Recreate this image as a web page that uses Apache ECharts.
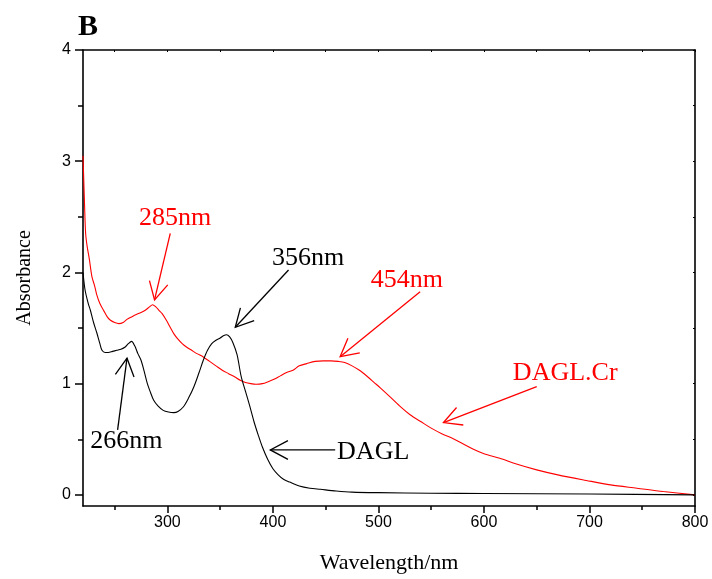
<!DOCTYPE html>
<html>
<head>
<meta charset="utf-8">
<script src="https://cdn.jsdelivr.net/npm/echarts@6/dist/echarts.min.js"></script>
<style>
html,body{margin:0;padding:0;background:#fff;}
#chart{width:712px;height:579px;}
</style>
</head>
<body>
<div id="chart"></div>
<script>
// ---- Data ----
const daglX = [220,222,225,227,230,233,236,238,241,244,248,252,256,260,263,266,269,272,275,278,281,284,287,291,296,301,306,310,315,320,325,330,334,338,342,346,350,353,356,359,362,366,370,374,378,382,386,390,395,400,405,410,416,425,435,445,460,475,500,550,600,700,800];
const daglY = [2.00,1.84,1.72,1.66,1.55,1.46,1.36,1.30,1.28,1.28,1.29,1.30,1.31,1.33,1.36,1.38,1.34,1.27,1.21,1.11,1.00,0.92,0.85,0.80,0.76,0.745,0.74,0.75,0.79,0.87,0.97,1.10,1.21,1.30,1.36,1.39,1.41,1.43,1.44,1.42,1.37,1.26,1.06,0.93,0.80,0.66,0.54,0.43,0.32,0.235,0.18,0.14,0.115,0.08,0.06,0.05,0.035,0.025,0.02,0.015,0.012,0.008,0.0];

const crX = [220,220.5,221.5,222.5,224,226,228.5,231,233,236,240,243,246,250,254,258,262,266,270,275,279,283,286,289,292,295,299,303,306,310,314,318,323,328,334,340,346,352,358,364,369,374,379,384,390,396,401,407,413,419,425,432,440,448,455,462,468,475,482,490,496,502,510,520,530,540,550,560,570,580,590,600,615,630,650,670,697,720,745,770,800];
const crY = [3.05,2.90,2.60,2.35,2.23,2.12,1.96,1.88,1.80,1.72,1.65,1.60,1.57,1.55,1.54,1.55,1.58,1.60,1.62,1.64,1.66,1.69,1.71,1.69,1.66,1.63,1.57,1.50,1.45,1.40,1.36,1.33,1.30,1.27,1.24,1.20,1.16,1.12,1.09,1.06,1.03,1.01,1.00,0.995,1.00,1.02,1.04,1.07,1.10,1.12,1.16,1.18,1.20,1.205,1.205,1.20,1.19,1.16,1.12,1.06,1.01,0.96,0.89,0.80,0.72,0.66,0.60,0.55,0.51,0.46,0.41,0.37,0.33,0.28,0.225,0.18,0.13,0.09,0.06,0.03,0.0];

const xMajorTicks = [300,400,500,600,700,800];
const xMinorTicks = [250,350,450,550,650,750];
const xTopTicks = [250,300,350,400,450,500,550,600,650,700,750,800];
const yMajorTicks = [0,1,2,3,4];
const yMinorTicks = [0.5,1.5,2.5,3.5];
const yRightTicks = [0,0.5,1,1.5,2,2.5,3,3.5,4];

// annotations (data coordinates)
const labelTexts = ['285nm','266nm','356nm','454nm','DAGL.Cr','DAGL'];
const labelPos = [[307.3,2.49],[261,0.485],[433.4,2.13],[527,1.93],[677,1.097],[460.8,0.387]];
const labelColors = ['#ff0000','#000000','#000000','#ff0000','#ff0000','#000000'];
const labelAlign = ['center','center','center','center','center','left'];
const arrowTails = [[302.7,2.352],[252.8,0.584],[414.8,2.022],[539.5,1.827],[650,0.973],[459,0.404]];
const arrowHeads = [[287.8,1.753],[261.7,1.229],[364.3,1.507],[463.7,1.243],[561.6,0.650],[397.5,0.404]];

const serif = "'Liberation Serif','Times New Roman',serif";
const sans = "'Liberation Sans',Arial,sans-serif";

const zip = (xs, ys) => xs.map((x, i) => [x, ys[i]]);

const chart = echarts.init(document.getElementById('chart'), null, {renderer: 'canvas'});

const axisLineStyle = {color: '#000', width: 1.6};

const option = {
  backgroundColor: '#fff',
  animation: false,
  grid: {left: 83, right: 17, top: 50, bottom: 73, containLabel: false},
  xAxis: [
    {
      type: 'value', min: 220, max: 800, position: 'bottom',
      axisLine: {show: true, onZero: false, lineStyle: axisLineStyle},
      axisTick: {show: true, inside: false, length: 7, lineStyle: {color: '#000', width: 1.5}, customValues: xMajorTicks},
      axisLabel: {show: true, margin: 9, color: '#000', fontFamily: sans, fontSize: 16, customValues: xMajorTicks},
      splitLine: {show: false},
      name: 'Wavelength/nm', nameLocation: 'middle', nameGap: 46,
      nameTextStyle: {fontFamily: serif, fontSize: 22, color: '#000'}
    },
    {
      type: 'value', min: 220, max: 800, position: 'bottom',
      axisLine: {show: false, onZero: false},
      axisTick: {show: true, inside: false, length: 4, lineStyle: {color: '#000', width: 1.5}, customValues: xMinorTicks},
      axisLabel: {show: false},
      splitLine: {show: false}
    },
    {
      type: 'value', min: 220, max: 800, position: 'top',
      axisLine: {show: true, onZero: false, lineStyle: axisLineStyle},
      axisTick: {show: true, inside: true, length: 2, lineStyle: {color: '#000', width: 1}, customValues: xTopTicks},
      axisLabel: {show: false},
      splitLine: {show: false}
    }
  ],
  yAxis: [
    {
      type: 'value', min: -0.1, max: 4, position: 'left',
      axisLine: {show: true, onZero: false, lineStyle: axisLineStyle},
      axisTick: {show: true, inside: false, length: 8, lineStyle: {color: '#000', width: 1.5}, customValues: yMajorTicks},
      axisLabel: {show: true, margin: 12, color: '#000', fontFamily: sans, fontSize: 16, customValues: yMajorTicks},
      splitLine: {show: false},
      name: 'Absorbance', nameLocation: 'middle', nameGap: 48,
      nameTextStyle: {fontFamily: serif, fontSize: 20, color: '#000'}
    },
    {
      type: 'value', min: -0.1, max: 4, position: 'left',
      axisLine: {show: false, onZero: false},
      axisTick: {show: true, inside: false, length: 5, lineStyle: {color: '#000', width: 1.5}, customValues: yMinorTicks},
      axisLabel: {show: false},
      splitLine: {show: false}
    },
    {
      type: 'value', min: -0.1, max: 4, position: 'right',
      axisLine: {show: true, onZero: false, lineStyle: axisLineStyle},
      axisTick: {show: true, inside: true, length: 2, lineStyle: {color: '#000', width: 1}, customValues: yRightTicks},
      axisLabel: {show: false},
      splitLine: {show: false}
    }
  ],
  series: [
    {
      name: 'DAGL', type: 'line', xAxisIndex: 0, yAxisIndex: 0,
      data: zip(daglX, daglY), showSymbol: false, smooth: 0.3,
      lineStyle: {color: '#000', width: 1.1}, z: 3
    },
    {
      name: 'DAGL.Cr', type: 'line', xAxisIndex: 0, yAxisIndex: 0,
      data: zip(crX, crY), showSymbol: false, smooth: 0.3,
      lineStyle: {color: '#ff0000', width: 1.1}, z: 2
    }
  ]
};
chart.setOption(option);

// annotations drawn through the chart's own coordinate conversion
const graphics = [];
graphics.push({
  type: 'text', left: 78, top: 12,
  style: {text: 'B', font: "bold 30px " + serif, fill: '#000'}
});
const toPx = (p) => chart.convertToPixel({xAxisIndex: 0, yAxisIndex: 0}, p);
for (let i = 0; i < arrowTails.length; i++) {
  const t = toPx(arrowTails[i]);
  const h = toPx(arrowHeads[i]);
  const col = labelColors[i];
  const dx = t[0] - h[0], dy = t[1] - h[1];
  const len = Math.sqrt(dx * dx + dy * dy);
  const ux = dx / len, uy = dy / len;
  const wing = 20, ang = 28 * Math.PI / 180;
  const rot = (a) => [ux * Math.cos(a) - uy * Math.sin(a), ux * Math.sin(a) + uy * Math.cos(a)];
  const w1 = rot(ang), w2 = rot(-ang);
  graphics.push({
    type: 'line', z: 10,
    shape: {x1: t[0], y1: t[1], x2: h[0], y2: h[1]},
    style: {stroke: col, lineWidth: 1.3}
  });
  graphics.push({
    type: 'polyline', z: 10,
    shape: {points: [[h[0] + w1[0] * wing, h[1] + w1[1] * wing], [h[0], h[1]], [h[0] + w2[0] * wing, h[1] + w2[1] * wing]]},
    style: {stroke: col, lineWidth: 1.3, fill: null}
  });
}
for (let i = 0; i < labelTexts.length; i++) {
  const p = toPx(labelPos[i]);
  graphics.push({
    type: 'text', z: 10, x: p[0], y: p[1],
    style: {text: labelTexts[i], fill: labelColors[i], font: "26px " + serif, align: labelAlign[i], verticalAlign: 'middle'}
  });
}
chart.setOption({graphic: graphics});
</script>
</body>
</html>
